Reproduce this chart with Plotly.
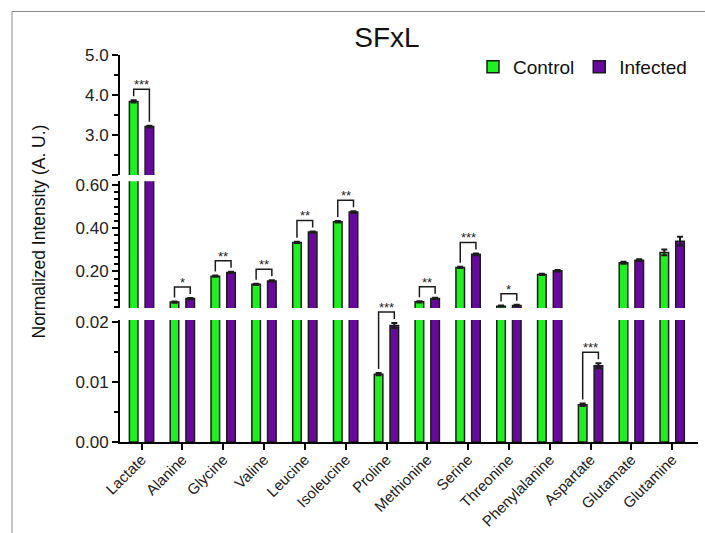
import plotly.graph_objects as go

# ---- data -------------------------------------------------------------
metabolites = ["Lactate", "Alanine", "Glycine", "Valine", "Leucine", "Isoleucine",
               "Proline", "Methionine", "Serine", "Threonine", "Phenylalanine",
               "Aspartate", "Glutamate", "Glutamine"]
control = [3.84, 0.058, 0.178, 0.140, 0.334, 0.430, 0.0113, 0.059, 0.2185,
           0.039, 0.186, 0.0062, 0.240, 0.288]
infected = [3.21, 0.074, 0.195, 0.156, 0.382, 0.475, 0.0194, 0.075, 0.279,
            0.042, 0.203, 0.0127, 0.252, 0.340]
control_err = [0.03, 0.003, 0.003, 0.003, 0.003, 0.003, 0.0002, 0.003, 0.003,
               0.003, 0.003, 0.0002, 0.005, 0.013]
infected_err = [0.02, 0.003, 0.003, 0.003, 0.003, 0.004, 0.0004, 0.003, 0.004,
                0.003, 0.003, 0.0004, 0.004, 0.020]
# significance marks: (metabolite index, stars)
significance = [(0, "***"), (1, "*"), (2, "**"), (3, "**"), (4, "**"), (5, "**"),
                (6, "***"), (7, "**"), (8, "***"), (9, "*"), (11, "***")]

GREEN = "#1ff01f"
PURPLE = "#67099c"
EDGE = "#1c1c1c"
FONT = "Liberation Sans, Arial, sans-serif"

# ---- broken y axis: three stacked segments sharing one x axis -----------
W, H = 705, 533
M = dict(l=120, r=7, t=55, b=91)
PLOT_H = H - M["t"] - M["b"]
PLOT_W = W - M["l"] - M["r"]

segments = {
    "y":  dict(range=[0.0, 0.0203], domain=[0.0, 0.315],
               tickvals=[0.0, 0.01, 0.02], fmt=".2f", minor=0.005),
    "y2": dict(range=[0.030, 0.618], domain=[0.346, 0.674],
               tickvals=[0.2, 0.4, 0.6], fmt=".2f", minor=0.2 / 6),
    "y3": dict(range=[2.0, 5.0], domain=[0.69, 1.0],
               tickvals=[2.0, 3.0, 4.0, 5.0], fmt=".1f", minor=0.5),
}


def segment_for(v):
    if v >= segments["y3"]["range"][0]:
        return "y3"
    if v >= segments["y2"]["range"][0]:
        return "y2"
    return "y"


def to_paper(v):
    s = segments[segment_for(v)]
    r0, r1 = s["range"]
    d0, d1 = s["domain"]
    return d0 + (v - r0) / (r1 - r0) * (d1 - d0)


def px(n):
    return n / PLOT_H


OFFSET_C, OFFSET_I, BAR_W = -0.30, 0.085, 0.21

fig = go.Figure()
for k, yref in enumerate(["y", "y2", "y3"]):
    for name, vals, errs, color, off in [("Control", control, control_err, GREEN, OFFSET_C),
                                         ("Infected", infected, infected_err, PURPLE, OFFSET_I)]:
        fig.add_trace(go.Bar(
            x=metabolites, y=vals, name=name, yaxis=yref, xaxis="x",
            offset=off, width=BAR_W,
            marker=dict(color=color, line=dict(color=EDGE, width=1.5)),
            error_y=dict(type="data", array=errs, visible=True, color=EDGE,
                         thickness=2, width=3),
            showlegend=(k == 0), legendgroup=name, hoverinfo="x+y",
        ))

# significance brackets
shapes = []
annotations = []
cx = OFFSET_C + BAR_W / 2
ix = OFFSET_I + BAR_W / 2
for i, stars in significance:
    top_c = to_paper(control[i] + control_err[i])
    top_i = to_paper(infected[i] + infected_err[i])
    y_top = max(top_c, top_i) + px(11)
    xl, xr = i + cx, i + ix
    path = (f"M {xl},{top_c + px(4)} L {xl},{y_top} "
            f"L {xr},{y_top} L {xr},{top_i + px(4)}")
    shapes.append(dict(type="path", path=path, xref="x", yref="paper",
                       line=dict(color=EDGE, width=1.5)))
    annotations.append(dict(x=i + (cx + ix) / 2, y=y_top, xref="x", yref="paper",
                            text=stars, showarrow=False, yanchor="bottom",
                            yshift=-5, font=dict(family=FONT, size=13, color="#222")))

# thin frame along the top and left edges
fx0 = (12 - M["l"]) / PLOT_W
fx1 = (W - M["l"]) / PLOT_W
fy_top = 1 + (M["t"] - 11.5) / PLOT_H
fy_bot = -M["b"] / PLOT_H
shapes.append(dict(type="line", xref="paper", yref="paper", x0=fx0, x1=fx0,
                   y0=fy_bot, y1=fy_top, line=dict(color="#8a8a8a", width=1)))
shapes.append(dict(type="line", xref="paper", yref="paper", x0=fx0, x1=fx1,
                   y0=fy_top, y1=fy_top, line=dict(color="#8a8a8a", width=1)))

# y axis title
annotations.append(dict(text="Normalized Intensity (A. U.)", xref="paper", yref="paper",
                        x=(38.5 - M["l"]) / PLOT_W,
                        y=(H - M["b"] - 232) / PLOT_H, textangle=-90, showarrow=False,
                        xanchor="center", yanchor="middle",
                        font=dict(family=FONT, size=17.5, color="#111")))

axis_common = dict(showline=True, linecolor="black", linewidth=2, ticks="outside",
                   ticklen=6, tickwidth=2, tickcolor="black", showgrid=False,
                   zeroline=False, anchor="x", automargin=False,
                   tickfont=dict(family=FONT, size=17, color="#222"))

layout_axes = {}
for yref, s in segments.items():
    name = "yaxis" if yref == "y" else "yaxis" + yref[1:]
    labels = [format(v, s["fmt"]) for v in s["tickvals"]]
    if yref == "y3":
        labels[0] = ""
    layout_axes[name] = dict(axis_common, range=s["range"], domain=s["domain"],
                             tickvals=s["tickvals"], ticktext=labels,
                             minor=dict(dtick=s["minor"], tick0=0, ticks="outside",
                                        ticklen=4, tickwidth=1.5, tickcolor="black"))

fig.update_layout(
    width=W, height=H, margin=dict(M, autoexpand=False),
    paper_bgcolor="white", plot_bgcolor="white",
    font=dict(family=FONT, color="#222"),
    title=dict(text="SFxL", xref="paper", x=(387 - M["l"]) / PLOT_W,
               xanchor="center", y=1 - 37.5 / H, yanchor="middle",
               font=dict(family=FONT, size=28, color="#111")),
    barmode="overlay",
    xaxis=dict(range=[-0.53, 13.63], showline=True, linecolor="black", linewidth=2,
               ticks="outside", ticklen=6, tickwidth=2, tickcolor="black",
               tickangle=-45, anchor="y", showgrid=False, zeroline=False,
               automargin=False, ticklabelstandoff=-5,
               tickfont=dict(family=FONT, size=15, color="#222")),
    legend=dict(orientation="h", x=(473 - M["l"]) / PLOT_W,
                y=(H - M["b"] - 67) / PLOT_H, xanchor="left", yanchor="middle",
                bgcolor="rgba(0,0,0,0)", font=dict(family=FONT, size=19, color="#111")),
    shapes=shapes, annotations=annotations,
    **layout_axes,
)

fig.write_html("out.html")
